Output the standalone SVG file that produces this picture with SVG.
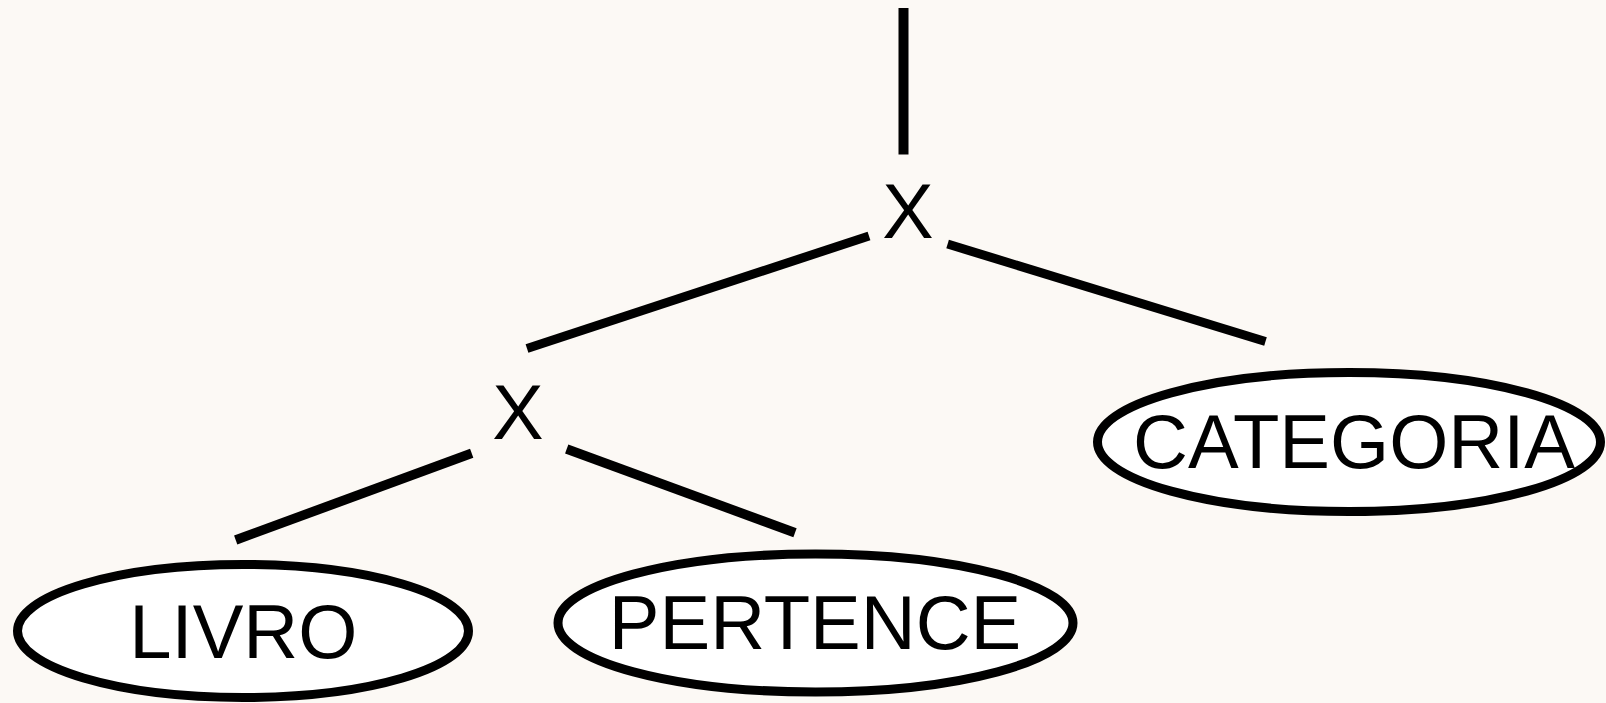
<svg xmlns="http://www.w3.org/2000/svg" width="1606" height="703" viewBox="0 0 1606 703">
  <style>
    .bg { fill: #fcf9f5; }
    .edge { stroke: #000; fill: none; stroke-linecap: butt; }
    .ent { fill: #ffffff; stroke: #000; stroke-width: 9; }
    .lbl { font-family: "Liberation Sans", Arial, sans-serif; font-size: 76px; fill: #000; text-anchor: middle; }
    .op { font-family: "Liberation Sans", Arial, sans-serif; font-size: 77px; fill: #000; text-anchor: middle; }
  </style>
  <rect class="bg" x="0" y="0" width="1606" height="703"/>
  <g id="connectors">
    <line class="edge" x1="903.5" y1="8" x2="903.5" y2="154.5" stroke-width="10"/>
    <line class="edge" x1="869" y1="236" x2="527" y2="348.5" stroke-width="9"/>
    <line class="edge" x1="947.6" y1="244" x2="1265.5" y2="341.5" stroke-width="9"/>
    <line class="edge" x1="471.7" y1="453.3" x2="235.7" y2="540" stroke-width="9.5"/>
    <line class="edge" x1="566.7" y1="449" x2="795" y2="532.7" stroke-width="9.5"/>
  </g>
  <g id="join-top">
    <text class="op" x="908" y="238">X</text>
  </g>
  <g id="join-bottom">
    <text class="op" x="518" y="439">X</text>
  </g>
  <g id="categoria">
    <ellipse class="ent" cx="1349" cy="442" rx="251.5" ry="69.5"/>
    <text class="lbl" x="1354" y="467.7">CATEGORIA</text>
  </g>
  <g id="livro">
    <ellipse class="ent" cx="243" cy="631" rx="225.5" ry="66.5"/>
    <text class="lbl" x="243.3" y="658.3">LIVRO</text>
  </g>
  <g id="pertence">
    <ellipse class="ent" cx="815.5" cy="623" rx="257.5" ry="69"/>
    <text class="lbl" x="815" y="649">PERTENCE</text>
  </g>
</svg>
